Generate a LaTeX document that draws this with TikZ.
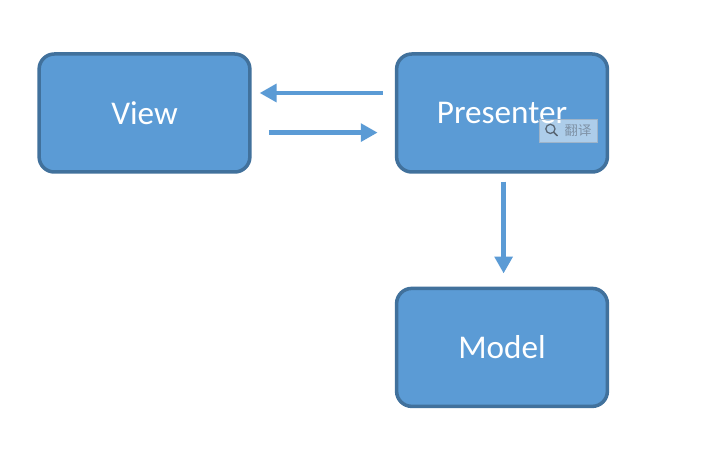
\documentclass[tikz,border=0pt]{standalone}
\usepackage{fontspec}
\setmainfont{Carlito}
\newfontfamily\cjk{Noto Sans CJK SC}
\usetikzlibrary{positioning, arrows.meta, calc}

\definecolor{boxfill}{HTML}{5B9BD5}
\definecolor{boxline}{HTML}{41719C}
\definecolor{badgeline}{HTML}{9FB4C9}
\definecolor{badgetext}{HTML}{7F92A6}

\tikzset{
    mvpbox/.style={draw=boxline, fill=boxfill, line width=2.5pt, rounded corners=0.38cm, minimum width=5.27cm, minimum height=2.95cm, text=white, font=\fontsize{23.6}{28}\selectfont},
    mvparrow/.style={draw=boxfill, line width=3.1pt, -{Triangle[length=12pt, width=12.5pt]}},
    badge/.style={draw=badgeline, fill=white, fill opacity=0.5, text opacity=1, line width=0.6pt, minimum width=1.45cm, minimum height=0.575cm, inner sep=0pt, text=badgetext, font=\fontsize{9.5}{11}\selectfont}
}

\begin{document}
\begin{tikzpicture}
    \useasboundingbox[fill=white] (0,0) rectangle (18.125,11.325);

    % Boxes
    \node[mvpbox] (view) at (3.6125, 8.5) {View};
    \node[mvpbox] (presenter) at (12.55, 8.5) {Presenter};
    \node[mvpbox] (model) at (12.55, 2.64) {Model};

    % Connectors
    \draw[mvparrow] ([xshift=-0.3cm, yshift=0.5cm]presenter.west) -- ([xshift=0.2cm, yshift=0.5cm]view.east);
    \draw[mvparrow] ([xshift=0.43cm, yshift=-0.49cm]view.east) -- ([xshift=-0.43cm, yshift=-0.49cm]presenter.west);
    \draw[mvparrow] ([xshift=0.04cm, yshift=-0.2cm]presenter.south) -- ([xshift=0.04cm, yshift=0.33cm]model.north);

    % Translate badge over the box
    \node[badge] (translate) at (14.2, 8.0625) {\hspace{0.5cm}{\cjk 翻译}};
    \draw[badgetext!70!black, line width=0.9pt] ([xshift=-0.44cm, yshift=0.04cm]translate.center) circle (0.115cm);
    \draw[badgetext!70!black, line width=1.1pt, line cap=round] ([xshift=-0.36cm, yshift=-0.04cm]translate.center) -- ([xshift=-0.27cm, yshift=-0.13cm]translate.center);
\end{tikzpicture}
\end{document}
